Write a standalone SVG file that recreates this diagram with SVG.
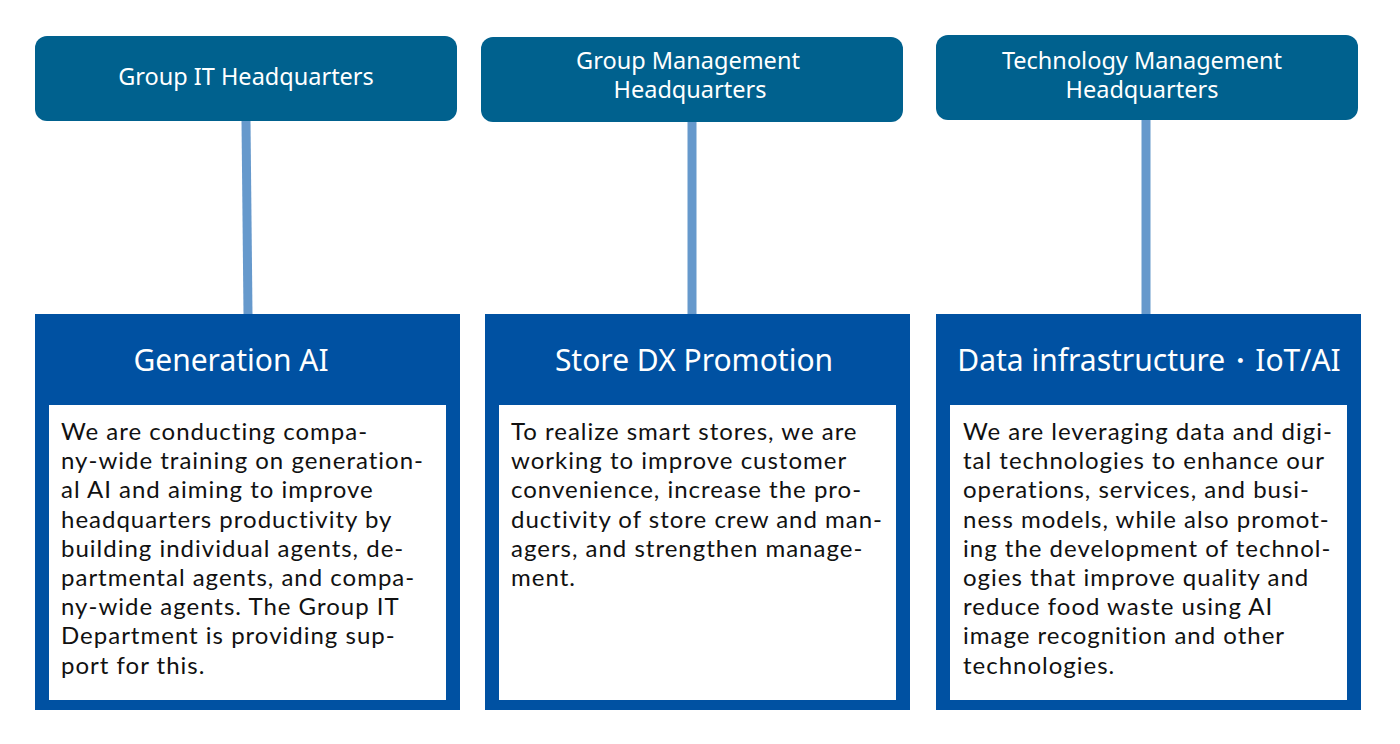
<svg xmlns="http://www.w3.org/2000/svg" width="1400" height="744" viewBox="0 0 1400 744">
<style>
.hq{fill:#00618e}
.hqt{font-family:"Noto Sans","Open Sans",sans-serif;font-size:23.5px;fill:#fff;text-anchor:middle}
.card{fill:#0051a2}
.inner{fill:#fff}
.title{font-family:"Noto Sans","Open Sans",sans-serif;font-size:30px;fill:#fff;text-anchor:middle}
.body{font-family:Lato,"Noto Sans",sans-serif;font-size:24px;letter-spacing:1px;fill:#111}
.conn{stroke:#6699cc;stroke-width:9;fill:none}
</style>
<rect width="1400" height="744" fill="#fff"/>
<g id="connectors">
<line class="conn" x1="246" y1="121" x2="248" y2="314"/>
<line class="conn" x1="692" y1="122" x2="692" y2="314"/>
<line class="conn" x1="1146" y1="120" x2="1146" y2="314"/>
</g>
<g id="hq1">
<rect class="hq" x="35" y="36" width="422" height="85" rx="12"/>
<text class="hqt" x="246" y="85">Group IT Headquarters</text>
</g>
<g id="hq2">
<rect class="hq" x="481" y="37" width="422" height="85" rx="12"/>
<text class="hqt" x="688" y="69">Group Management</text>
<text class="hqt" x="690" y="98">Headquarters</text>
</g>
<g id="hq3">
<rect class="hq" x="936" y="35" width="422" height="85" rx="12"/>
<text class="hqt" x="1142" y="69">Technology Management</text>
<text class="hqt" x="1142" y="98">Headquarters</text>
</g>
<g id="card1">
<rect class="card" x="35" y="314" width="425" height="396"/>
<text class="title" x="231" y="371">Generation AI</text>
<rect class="inner" x="49" y="405" width="397" height="295"/>
<text class="body" x="61" y="440">
<tspan x="61" dy="0">We are conducting compa-</tspan>
<tspan x="61" dy="29.2">ny-wide training on generation-</tspan>
<tspan x="61" dy="29.2">al AI and aiming to improve</tspan>
<tspan x="61" dy="29.2">headquarters productivity by</tspan>
<tspan x="61" dy="29.2">building individual agents, de-</tspan>
<tspan x="61" dy="29.2">partmental agents, and compa-</tspan>
<tspan x="61" dy="29.2">ny-wide agents. The Group IT</tspan>
<tspan x="61" dy="29.2">Department is providing sup-</tspan>
<tspan x="61" dy="29.2">port for this.</tspan>
</text>
</g>
<g id="card2">
<rect class="card" x="485" y="314" width="425" height="396"/>
<text class="title" x="694" y="371">Store DX Promotion</text>
<rect class="inner" x="499" y="405" width="397" height="295"/>
<text class="body" x="511" y="440">
<tspan x="511" dy="0">To realize smart stores, we are</tspan>
<tspan x="511" dy="29.2">working to improve customer</tspan>
<tspan x="511" dy="29.2">convenience, increase the pro-</tspan>
<tspan x="511" dy="29.2">ductivity of store crew and man-</tspan>
<tspan x="511" dy="29.2">agers, and strengthen manage-</tspan>
<tspan x="511" dy="29.2">ment.</tspan>
</text>
</g>
<g id="card3">
<rect class="card" x="936" y="314" width="425" height="396"/>
<text class="title" x="1149" y="371">Data infrastructure・IoT/AI</text>
<rect class="inner" x="950" y="405" width="397" height="295"/>
<text class="body" x="963" y="440">
<tspan x="963" dy="0">We are leveraging data and digi-</tspan>
<tspan x="963" dy="29.2">tal technologies to enhance our</tspan>
<tspan x="963" dy="29.2">operations, services, and busi-</tspan>
<tspan x="963" dy="29.2">ness models, while also promot-</tspan>
<tspan x="963" dy="29.2">ing the development of technol-</tspan>
<tspan x="963" dy="29.2">ogies that improve quality and</tspan>
<tspan x="963" dy="29.2">reduce food waste using AI</tspan>
<tspan x="963" dy="29.2">image recognition and other</tspan>
<tspan x="963" dy="29.2">technologies.</tspan>
</text>
</g>
</svg>
